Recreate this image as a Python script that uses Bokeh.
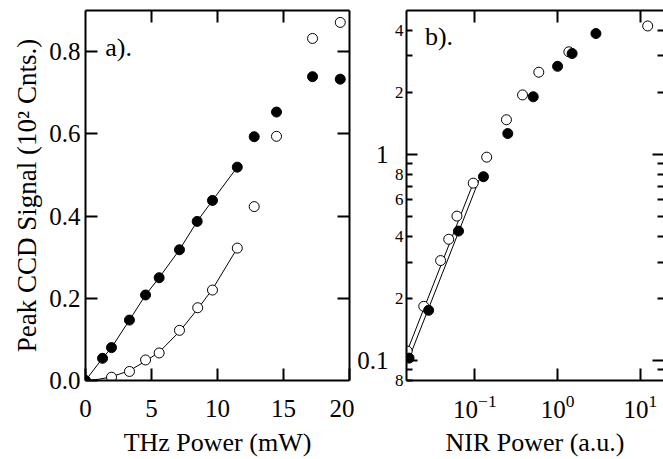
from bokeh.plotting import figure
from bokeh.layouts import row
from bokeh.models import LinearAxis, LogAxis, FixedTicker, Range1d, Label
from bokeh.embed import file_html
from bokeh.resources import INLINE

FONT = "Liberation Serif"

# ---------------- panel a data ----------------
a_filled_x = [0, 1.29, 1.97, 3.33, 4.55, 5.58, 7.12, 8.46, 9.62, 11.5, 12.78, 14.47, 17.2, 19.3]
a_filled_y = [0, 0.054, 0.080, 0.147, 0.208, 0.250, 0.318, 0.387, 0.438, 0.519, 0.593, 0.653, 0.739, 0.733]
a_open_x = [1.97, 3.33, 4.55, 5.58, 7.12, 8.5, 9.62, 11.5, 12.78, 14.47, 17.2, 19.3]
a_open_y = [0.008, 0.022, 0.050, 0.067, 0.122, 0.177, 0.220, 0.322, 0.423, 0.594, 0.832, 0.871]
a_fit_filled_x = [0, 1.29, 1.97, 3.33, 4.55, 5.58, 7.12, 8.46, 9.62, 11.5]
a_fit_filled_y = [0, 0.054, 0.080, 0.147, 0.208, 0.250, 0.318, 0.387, 0.438, 0.519]
a_fit_open_x = [0, 1.0, 1.97, 3.33, 4.55, 5.58, 7.12, 8.5, 9.62, 11.5]
a_fit_open_y = [0, 0.003, 0.009, 0.024, 0.047, 0.069, 0.119, 0.174, 0.222, 0.322]
a_xticks = [0, 5, 10, 15, 20]
a_yticks = [0, 0.2, 0.4, 0.6, 0.8]
a_ytick_labels = ["0.0", "0.2", "0.4", "0.6", "0.8"]

# ---------------- panel b data ----------------
b_filled_x = [0.016, 0.0276, 0.0634, 0.127, 0.25, 0.508, 1.0, 1.50, 2.91]
b_filled_y = [0.1026, 0.175, 0.424, 0.778, 1.26, 1.90, 2.67, 3.08, 3.85]
b_open_x = [0.0152, 0.0241, 0.0385, 0.0483, 0.0607, 0.0955, 0.139, 0.241, 0.377, 0.593, 1.37, 12.3]
b_open_y = [0.111, 0.183, 0.305, 0.387, 0.501, 0.724, 0.968, 1.47, 1.94, 2.50, 3.14, 4.19]
b_fit_open_x = [0.0152, 0.0955]
b_fit_open_y = [0.111, 0.724]
b_fit_filled_x = [0.016, 0.1124]
b_fit_filled_y = [0.1026, 0.751]
b_xticks = [0.1, 1, 10]
b_ydecades = [0.1, 1]
b_ydecade_labels = ["0.1", "1"]
b_yminor = [0.08, 0.09, 0.2, 0.3, 0.4, 0.5, 0.6, 0.7, 0.8, 0.9, 2, 3, 4]
b_yminor_labels = ["8", "", "2", "", "4", "", "6", "", "8", "", "2", "", "4"]


def style_axis(ax, tick_in=12, label_size="25px", standoff=5, show_labels=True):
    ax.axis_line_width = 2
    ax.axis_line_color = "black"
    ax.major_tick_in = tick_in
    ax.major_tick_out = 0
    ax.major_tick_line_width = 2
    ax.major_tick_line_color = "black"
    ax.minor_tick_in = 0
    ax.minor_tick_out = 0
    ax.major_label_text_font = FONT
    ax.major_label_text_font_size = label_size
    ax.major_label_text_color = "black" if show_labels else None
    ax.major_label_standoff = standoff
    ax.axis_label_text_font = FONT
    ax.axis_label_text_font_size = "26px"
    ax.axis_label_text_font_style = "normal"
    ax.axis_label_text_color = "black"


# ---------------- panel a ----------------
pa = figure(width=354, height=459, x_range=Range1d(0, 20), y_range=Range1d(0, 0.9),
            output_backend="svg", toolbar_location=None,
            min_border_left=85, min_border_right=5, min_border_top=10, min_border_bottom=74)
pa.grid.visible = False
pa.outline_line_color = None

xa = pa.xaxis[0]
xa.ticker = FixedTicker(ticks=a_xticks)
style_axis(xa, standoff=19)
xa.axis_label = "THz Power (mW)"
xa.axis_label_standoff = 8

ya = pa.yaxis[0]
ya.ticker = FixedTicker(ticks=a_yticks)
ya.major_label_overrides = {t: s for t, s in zip(a_yticks, a_ytick_labels)}
style_axis(ya, standoff=5)
ya.axis_label = "Peak CCD Signal (10² Cnts.)"
ya.axis_label_text_font_size = "27px"
ya.axis_label_standoff = 4

ta = LinearAxis(ticker=FixedTicker(ticks=a_xticks[1:-1]))
style_axis(ta, label_size="1px", standoff=0, show_labels=False)
pa.add_layout(ta, "above")
ra = LinearAxis(ticker=FixedTicker(ticks=a_yticks[1:]))
style_axis(ra, label_size="1px", standoff=0, show_labels=False)
pa.add_layout(ra, "right")

pa.line(a_fit_filled_x, a_fit_filled_y, line_color="black", line_width=1)
pa.line(a_fit_open_x, a_fit_open_y, line_color="black", line_width=1)
pa.scatter(a_open_x, a_open_y, size=10, marker="circle", fill_color="white", line_color="black", line_width=1)
pa.scatter(a_filled_x, a_filled_y, size=10, marker="circle", fill_color="black", line_color="black")
pa.add_layout(Label(x=1.5, y=0.81, text="a).", text_font=FONT, text_font_size="26px",
                    text_baseline="alphabetic", text_color="black"))

# ---------------- panel b ----------------
pb = figure(width=309, height=459, x_axis_type="log", y_axis_type="log",
            x_range=Range1d(0.0149, 19.1), y_range=Range1d(0.0799, 4.98),
            output_backend="svg", toolbar_location=None,
            min_border_left=46, min_border_right=0, min_border_top=9, min_border_bottom=76)
pb.grid.visible = False
pb.outline_line_color = None

xb = pb.xaxis[0]
xb.ticker = FixedTicker(ticks=b_xticks)
style_axis(xb, standoff=14)
xb.axis_label = "NIR Power (a.u.)"
xb.axis_label_standoff = 7

yb = pb.yaxis[0]
yb.ticker = FixedTicker(ticks=b_yminor, minor_ticks=b_ydecades)
yb.major_label_overrides = {t: s for t, s in zip(b_yminor, b_yminor_labels)}
style_axis(yb, tick_in=6, label_size="17px", standoff=3)
yb.minor_tick_in = 11
yb.minor_tick_out = 0
yb.minor_tick_line_width = 2
yb.minor_tick_line_color = "black"

yb_out = LogAxis(ticker=FixedTicker(ticks=b_ydecades))
yb_out.major_label_overrides = {t: s for t, s in zip(b_ydecades, b_ydecade_labels)}
style_axis(yb_out, tick_in=0, label_size="25px", standoff=3)
yb_out.axis_line_color = None
yb_out.major_tick_line_color = None
pb.add_layout(yb_out, "left")

tb = LogAxis(ticker=FixedTicker(ticks=b_xticks))
style_axis(tb, label_size="1px", standoff=0, show_labels=False)
pb.add_layout(tb, "above")

rb = LogAxis(ticker=FixedTicker(ticks=b_ydecades, minor_ticks=b_yminor[1:]))
style_axis(rb, tick_in=11, label_size="1px", standoff=0, show_labels=False)
rb.axis_line_color = None
rb.minor_tick_in = 6
rb.minor_tick_out = 0
rb.minor_tick_line_width = 2
rb.minor_tick_line_color = "black"
pb.add_layout(rb, "right")

pb.line(b_fit_open_x, b_fit_open_y, line_color="black", line_width=1)
pb.line(b_fit_filled_x, b_fit_filled_y, line_color="black", line_width=1)
pb.scatter(b_open_x, b_open_y, size=10, marker="circle", fill_color="white", line_color="black", line_width=1)
pb.scatter(b_filled_x, b_filled_y, size=10, marker="circle", fill_color="black", line_color="black")
pb.add_layout(Label(x=0.0249, y=3.71, text="b).", text_font=FONT, text_font_size="26px",
                    text_baseline="alphabetic", text_color="black"))

layout = row(pa, pb)
open("out.html", "w").write(file_html(layout, INLINE))
